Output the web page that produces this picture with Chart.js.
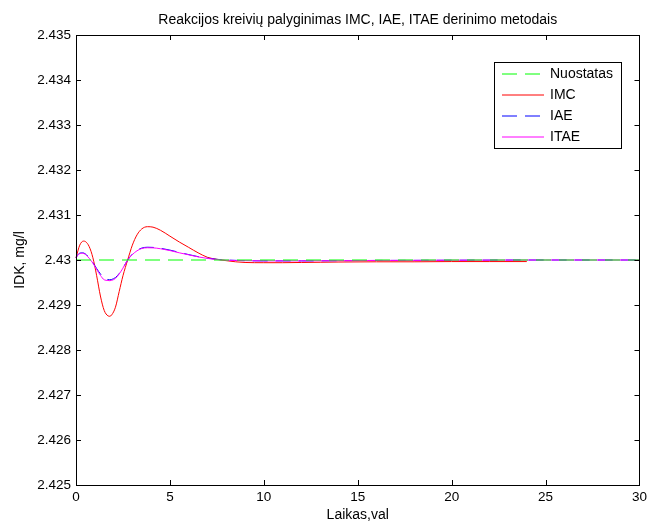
<!DOCTYPE html>
<html>
<head>
<meta charset="utf-8">
<script src="https://cdn.jsdelivr.net/npm/chart.js@4"></script>
<style>
  html, body { margin: 0; padding: 0; background: #fff; }
  #wrap { width: 651px; height: 524px; }
</style>
</head>
<body>
<div id="wrap"><canvas id="chart" width="651" height="524"></canvas></div>
<script>
// Data
const chartTitle = 'Reakcijos kreivių palyginimas IMC, IAE, ITAE derinimo metodais';
const seriesLabels = ['Nuostatas', 'IMC', 'IAE', 'ITAE'];
const seriesColors = ['#00ff00', '#ff0000', '#0000ff', '#ff00ff'];
const seriesDash = [[15, 8], [], [15, 8], []];

const tSet = [0, 30];
const setpoint = [2.43, 2.43];

const tImc = [0, 0.2, 0.4, 0.5, 0.7, 0.9, 1.1, 1.3, 1.5, 1.7, 1.8, 1.9, 2.1, 2.3, 2.5, 2.75, 3, 3.25, 3.5, 3.8, 4.1, 4.5, 5, 5.5, 6, 6.5, 7, 7.5, 8, 8.5, 9, 10, 11, 12, 13, 14, 16, 18, 20, 22, 24];
const imc = [2.43005, 2.43033, 2.43042, 2.43041, 2.4303, 2.43005, 2.42965, 2.4292, 2.42888, 2.42876, 2.42875, 2.42878, 2.42895, 2.4293, 2.42965, 2.43, 2.43033, 2.43056, 2.43069, 2.43074, 2.43073, 2.43066, 2.43053, 2.4304, 2.43028, 2.43016, 2.43006, 2.430015, 2.429985, 2.42996, 2.429945, 2.42994, 2.42994, 2.429945, 2.42995, 2.429955, 2.42996, 2.42996, 2.429965, 2.429965, 2.429965];

const tTuned = [0, 0.15, 0.35, 0.5, 0.7, 0.9, 1.1, 1.3, 1.5, 1.7, 1.8, 1.9, 2.1, 2.3, 2.5, 2.75, 3, 3.25, 3.5, 3.8, 4.1, 4.5, 5, 5.5, 6, 6.5, 7, 7.5, 8, 9, 10, 12, 14, 16, 18, 20, 25, 30];
const iae = [2.43005, 2.43014, 2.43016, 2.430135, 2.43005, 2.42994, 2.42981, 2.42969, 2.4296, 2.429565, 2.42956, 2.429568, 2.42961, 2.4297, 2.42982, 2.43, 2.43013, 2.430215, 2.430265, 2.430284, 2.43028, 2.43026, 2.43022, 2.43017, 2.43012, 2.430075, 2.43004, 2.430015, 2.43, 2.429985, 2.42998, 2.42998, 2.429985, 2.42999, 2.429992, 2.429995, 2.43, 2.43];
const itae = [2.43005, 2.43013, 2.43015, 2.430125, 2.43004, 2.42993, 2.42979, 2.42966, 2.42956, 2.429545, 2.42954, 2.429548, 2.42959, 2.42969, 2.42982, 2.43, 2.43012, 2.430205, 2.430255, 2.430272, 2.43027, 2.43025, 2.43021, 2.43016, 2.430115, 2.43007, 2.430035, 2.43001, 2.429995, 2.429985, 2.42998, 2.42998, 2.429985, 2.42999, 2.429992, 2.429995, 2.43, 2.43];

const xTicks = [0, 5, 10, 15, 20, 25, 30];
const yTicks = [2.425, 2.426, 2.427, 2.428, 2.429, 2.43, 2.431, 2.432, 2.433, 2.434, 2.435];

const FONT = 'Liberation Sans, Arial, sans-serif';

function pts(xs, ys) {
    return xs.map((x, i) => ({ x: x, y: ys[i] }));
}

// MATLAB-style axes: box with inward ticks, title over the axes, legend inside
const boxPlugin = {
    id: 'matlabBox',
    afterDraw(chart) {
        const { ctx, chartArea: a, scales } = chart;
        const x = scales.x, y = scales.y;
        ctx.save();
        ctx.strokeStyle = '#000';
        ctx.lineWidth = 1;
        ctx.strokeRect(Math.round(a.left) + 0.5, Math.round(a.top) + 0.5,
            Math.round(a.right - a.left), Math.round(a.bottom - a.top));
        const len = 5;
        ctx.beginPath();
        xTicks.forEach(v => {
            const px = Math.round(x.getPixelForValue(v)) + 0.5;
            ctx.moveTo(px, a.bottom); ctx.lineTo(px, a.bottom - len);
            ctx.moveTo(px, a.top); ctx.lineTo(px, a.top + len);
        });
        yTicks.forEach(v => {
            const py = Math.round(y.getPixelForValue(v)) + 0.5;
            ctx.moveTo(a.left, py); ctx.lineTo(a.left + len, py);
            ctx.moveTo(a.right, py); ctx.lineTo(a.right - len, py);
        });
        ctx.stroke();

        // title, centred over the axes
        ctx.fillStyle = '#000';
        ctx.font = '14px ' + FONT;
        ctx.textAlign = 'center';
        ctx.textBaseline = 'middle';
        ctx.fillText(chartTitle, (a.left + a.right) / 2, 20);

        // legend
        const lx = 494, ly = 62, lw = 127, lh = 86;
        ctx.fillStyle = '#fff';
        ctx.fillRect(lx, ly, lw, lh);
        ctx.strokeStyle = '#000';
        ctx.strokeRect(lx + 0.5, ly + 0.5, lw, lh);
        ctx.textAlign = 'left';
        seriesLabels.forEach((label, i) => {
            const ry = ly + 12 + i * 21;
            ctx.strokeStyle = seriesColors[i];
            ctx.lineWidth = 1;
            ctx.setLineDash(seriesDash[i]);
            ctx.beginPath();
            ctx.moveTo(lx + 8, ry);
            ctx.lineTo(lx + 50, ry);
            ctx.stroke();
            ctx.setLineDash([]);
            ctx.fillStyle = '#000';
            ctx.fillText(label, lx + 56, ry);
        });
        ctx.restore();
    }
};

const ctx = document.getElementById('chart').getContext('2d');
new Chart(ctx, {
    type: 'line',
    data: {
        datasets: [
            { label: seriesLabels[0], data: pts(tSet, setpoint), borderColor: seriesColors[0], borderWidth: 1, borderDash: seriesDash[0], order: 0 },
            { label: seriesLabels[1], data: pts(tImc, imc), borderColor: seriesColors[1], borderWidth: 1, order: 3 },
            { label: seriesLabels[2], data: pts(tTuned, iae), borderColor: seriesColors[2], borderWidth: 1, borderDash: seriesDash[2], order: 2 },
            { label: seriesLabels[3], data: pts(tTuned, itae), borderColor: seriesColors[3], borderWidth: 1, order: 1 }
        ]
    },
    options: {
        responsive: false,
        animation: false,
        clip: false,
        elements: {
            point: { radius: 0 },
            line: { cubicInterpolationMode: 'monotone', fill: false }
        },
        layout: { padding: { top: 35, right: 9, left: 0, bottom: 0 } },
        plugins: {
            legend: { display: false },
            tooltip: { enabled: false },
            title: { display: false }
        },
        scales: {
            x: {
                type: 'linear',
                min: 0, max: 30,
                grid: { display: false, drawTicks: false },
                border: { display: false },
                afterBuildTicks: s => { s.ticks = xTicks.map(v => ({ value: v })); },
                afterFit: s => { s.height = 39; },
                ticks: { color: '#000', padding: 4, font: { family: FONT, size: 13.5 }, maxRotation: 0 },
                title: { display: true, text: 'Laikas,val', color: '#000', padding: { top: 0, bottom: 0 }, font: { family: FONT, size: 14 } }
            },
            y: {
                min: 2.425, max: 2.435,
                grid: { display: false, drawTicks: false },
                border: { display: false },
                afterBuildTicks: s => { s.ticks = yTicks.map(v => ({ value: v })); },
                afterFit: s => { s.width = 76; },
                ticks: {
                    color: '#000', padding: 5, font: { family: FONT, size: 13.5 },
                    callback: v => String(parseFloat(Number(v).toFixed(3)))
                },
                title: { display: true, text: 'IDK, mg/l', color: '#000', padding: { top: 12, bottom: 0 }, font: { family: FONT, size: 14 } }
            }
        }
    },
    plugins: [boxPlugin]
});
</script>
</body>
</html>
